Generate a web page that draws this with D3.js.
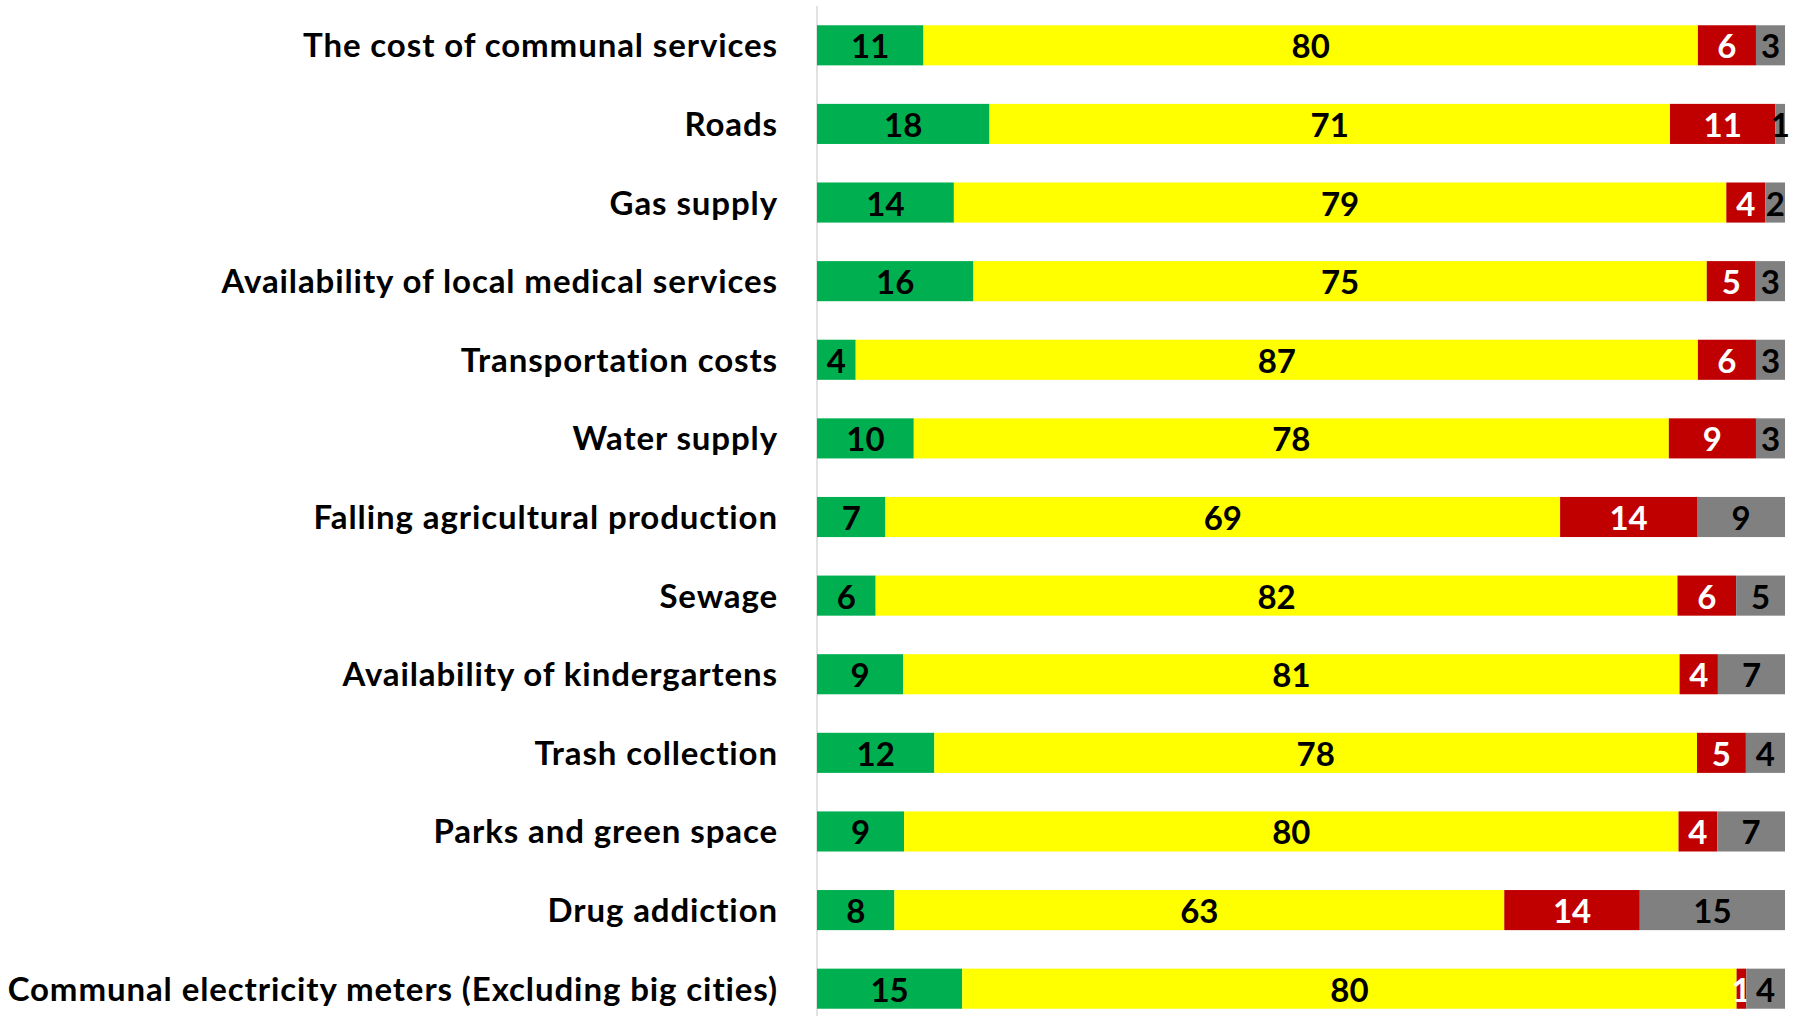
<!DOCTYPE html>
<html>
<head>
<meta charset="utf-8">
<script src="https://cdn.jsdelivr.net/npm/d3@7"></script>
<style>
  body { margin: 0; background: #fff; }
  text { font-family: Lato, "Open Sans", sans-serif; font-weight: bold; }
</style>
</head>
<body>
<script>
//stacked 100% bar chart of local problem ratings

(function(){

//categories, top to bottom
var categories = ["The cost of communal services", "Roads", "Gas supply",
    "Availability of local medical services", "Transportation costs", "Water supply",
    "Falling agricultural production", "Sewage", "Availability of kindergartens",
    "Trash collection", "Parks and green space", "Drug addiction",
    "Communal electricity meters (Excluding big cities)"];

//series values (percent), one array per colour
var greenVals  = [11, 18, 14, 16, 4, 10, 7, 6, 9, 12, 9, 8, 15];
var yellowVals = [80, 71, 79, 75, 87, 78, 69, 82, 81, 78, 80, 63, 80];
var redVals    = [6, 11, 4, 5, 6, 9, 14, 6, 4, 5, 4, 14, 1];
var greyVals   = [3, 1, 2, 3, 3, 3, 9, 5, 7, 4, 7, 15, 4];

var seriesKeys = ["green", "yellow", "red", "grey"];
var colours = {green: "#00b050", yellow: "#ffff00", red: "#c00000", grey: "#808080"};
var labelColours = {green: "#000", yellow: "#000", red: "#fff", grey: "#000"};

window.onload = drawChart();

function drawChart(){
    var width = 1799,
        height = 1016;

    var svg = d3.select("body")
        .append("svg")
        .attr("width", width)
        .attr("height", height);

    //build the rows for d3.stack
    var rows = categories.map(function(c, i){
        return {name: c, green: greenVals[i], yellow: yellowVals[i], red: redVals[i], grey: greyVals[i]};
    });

    var stack = d3.stack()
        .keys(seriesKeys)
        .offset(d3.stackOffsetExpand);
    var layers = stack(rows);

    var x = d3.scaleLinear()
        .domain([0, 1])
        .range([817, 1785]);

    var y = d3.scaleBand()
        .domain(categories)
        .range([6, 1028])
        .paddingInner(0.49)
        .paddingOuter(0.245);

    //vertical axis line
    svg.append("line")
        .attr("x1", x(0)).attr("x2", x(0))
        .attr("y1", 6).attr("y2", height)
        .attr("stroke", "#d9d9d9")
        .attr("stroke-width", 1.5);

    //category labels
    svg.selectAll(".catLabel")
        .data(categories)
        .enter()
        .append("text")
        .attr("class", "catLabel")
        .attr("x", 778)
        .attr("y", function(d){ return y(d) + y.bandwidth() / 2 + 12; })
        .attr("text-anchor", "end")
        .style("font-size", "33px")
        .style("letter-spacing", "0.9px")
        .attr("fill", "#000")
        .text(function(d){ return d; });

    //segments
    var groups = svg.selectAll(".layer")
        .data(layers)
        .enter()
        .append("g")
        .attr("class", "layer")
        .attr("fill", function(d){ return colours[d.key]; });

    groups.selectAll("rect")
        .data(function(d){ return d; })
        .enter()
        .append("rect")
        .attr("x", function(d){ return x(d[0]); })
        .attr("y", function(d){ return y(d.data.name); })
        .attr("width", function(d){ return x(d[1]) - x(d[0]); })
        .attr("height", y.bandwidth());

    //value labels
    groups.selectAll("text")
        .data(function(d){
            return d.map(function(p){ return {key: d.key, p: p}; });
        })
        .enter()
        .append("text")
        .attr("x", function(d){ return (x(d.p[0]) + x(d.p[1])) / 2; })
        .attr("y", function(d){ return y(d.p.data.name) + y.bandwidth() / 2 + 13; })
        .attr("text-anchor", "middle")
        .style("font-size", "33px")
        .attr("fill", function(d){ return labelColours[d.key]; })
        .text(function(d){ return d.p.data[d.key]; });
};

})();
</script>
</body>
</html>
